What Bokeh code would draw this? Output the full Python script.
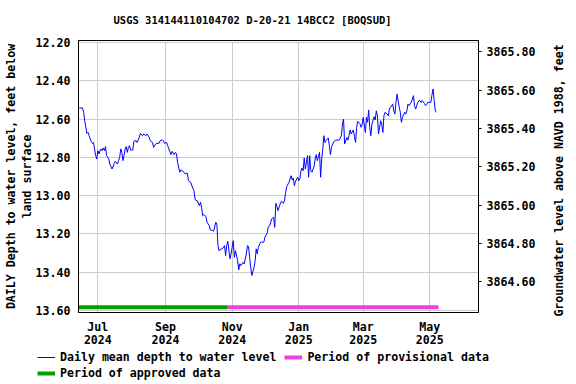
import math
import pandas as pd
from bokeh.plotting import figure
from bokeh.layouts import column, row
from bokeh.models import (Range1d, LinearAxis, FixedTicker, Legend, LegendItem,
                          NumeralTickFormatter, Label)
from bokeh.embed import file_html
from bokeh.resources import INLINE

# ---------------- data ----------------
dates = [
    "2024-06-14", "2024-06-17", "2024-06-18", "2024-06-19", "2024-06-20", "2024-06-21", "2024-06-22",
    "2024-06-23", "2024-06-24", "2024-06-25", "2024-06-26", "2024-06-27", "2024-06-28", "2024-06-29",
    "2024-06-30", "2024-07-01", "2024-07-02", "2024-07-03", "2024-07-04", "2024-07-05", "2024-07-06",
    "2024-07-07", "2024-07-08", "2024-07-09", "2024-07-11", "2024-07-12", "2024-07-14", "2024-07-16",
    "2024-07-17", "2024-07-19", "2024-07-20", "2024-07-21", "2024-07-22", "2024-07-23", "2024-07-24",
    "2024-07-25", "2024-07-26", "2024-07-27", "2024-07-28", "2024-07-29", "2024-07-30", "2024-07-31",
    "2024-08-02", "2024-08-03", "2024-08-05", "2024-08-06", "2024-08-08", "2024-08-09", "2024-08-11",
    "2024-08-12", "2024-08-14", "2024-08-15", "2024-08-17", "2024-08-18", "2024-08-20", "2024-08-21",
    "2024-08-23", "2024-08-24", "2024-08-26", "2024-08-27", "2024-08-29", "2024-08-30", "2024-08-31",
    "2024-09-02", "2024-09-03", "2024-09-04", "2024-09-06", "2024-09-07", "2024-09-09", "2024-09-10",
    "2024-09-11", "2024-09-12", "2024-09-14", "2024-09-15", "2024-09-16", "2024-09-18", "2024-09-19",
    "2024-09-21", "2024-09-22", "2024-09-24", "2024-09-25", "2024-09-27", "2024-09-28", "2024-09-29",
    "2024-09-30", "2024-10-02", "2024-10-03", "2024-10-04", "2024-10-05", "2024-10-06", "2024-10-08",
    "2024-10-09", "2024-10-11", "2024-10-12", "2024-10-14", "2024-10-15", "2024-10-17", "2024-10-18",
    "2024-10-19", "2024-10-20", "2024-10-22", "2024-10-23", "2024-10-25", "2024-10-26", "2024-10-27",
    "2024-10-28", "2024-10-30", "2024-10-31", "2024-11-01", "2024-11-02", "2024-11-03", "2024-11-04",
    "2024-11-06", "2024-11-07", "2024-11-08", "2024-11-09", "2024-11-11", "2024-11-12", "2024-11-14",
    "2024-11-15", "2024-11-16", "2024-11-17", "2024-11-18", "2024-11-19", "2024-11-21", "2024-11-22",
    "2024-11-23", "2024-11-24", "2024-11-25", "2024-11-27", "2024-11-28", "2024-11-30", "2024-12-01",
    "2024-12-03", "2024-12-04", "2024-12-06", "2024-12-07", "2024-12-09", "2024-12-10", "2024-12-11",
    "2024-12-12", "2024-12-13", "2024-12-15", "2024-12-16", "2024-12-18", "2024-12-19", "2024-12-20",
    "2024-12-21", "2024-12-23", "2024-12-24", "2024-12-25", "2024-12-26", "2024-12-27", "2024-12-28",
    "2024-12-29", "2024-12-31", "2025-01-01", "2025-01-02", "2025-01-03", "2025-01-04", "2025-01-05",
    "2025-01-06", "2025-01-07", "2025-01-09", "2025-01-10", "2025-01-11", "2025-01-12", "2025-01-13",
    "2025-01-15", "2025-01-16", "2025-01-17", "2025-01-18", "2025-01-20", "2025-01-21", "2025-01-22",
    "2025-01-23", "2025-01-24", "2025-01-25", "2025-01-26", "2025-01-28", "2025-01-29", "2025-01-30",
    "2025-01-31", "2025-02-01", "2025-02-03", "2025-02-04", "2025-02-06", "2025-02-07", "2025-02-09",
    "2025-02-10", "2025-02-11", "2025-02-12", "2025-02-14", "2025-02-15", "2025-02-16", "2025-02-17",
    "2025-02-18", "2025-02-20", "2025-02-21", "2025-02-22", "2025-02-23", "2025-02-24", "2025-02-26",
    "2025-02-27", "2025-02-28", "2025-03-01", "2025-03-03", "2025-03-04", "2025-03-05", "2025-03-06",
    "2025-03-07", "2025-03-08", "2025-03-09", "2025-03-11", "2025-03-12", "2025-03-13", "2025-03-14",
    "2025-03-15", "2025-03-17", "2025-03-18", "2025-03-19", "2025-03-20", "2025-03-21", "2025-03-23",
    "2025-03-24", "2025-03-25", "2025-03-26", "2025-03-28", "2025-03-29", "2025-03-30", "2025-03-31",
    "2025-04-01", "2025-04-03", "2025-04-04", "2025-04-05", "2025-04-06", "2025-04-08", "2025-04-09",
    "2025-04-10", "2025-04-11", "2025-04-12", "2025-04-14", "2025-04-15", "2025-04-16", "2025-04-17",
    "2025-04-18", "2025-04-20", "2025-04-21", "2025-04-22", "2025-04-23", "2025-04-24", "2025-04-26",
    "2025-04-27", "2025-04-28", "2025-04-29", "2025-05-01", "2025-05-02", "2025-05-03", "2025-05-04",
    "2025-05-05", "2025-05-06", "2025-05-07",
]
depth = [
    12.542, 12.542, 12.565, 12.609, 12.643, 12.675, 12.669,
    12.687, 12.704, 12.718, 12.727, 12.722, 12.756, 12.791,
    12.809, 12.765, 12.782, 12.765, 12.756, 12.765, 12.751,
    12.765, 12.744, 12.791, 12.809, 12.835, 12.861, 12.831,
    12.821, 12.835, 12.817, 12.800, 12.756, 12.774, 12.817,
    12.791, 12.756, 12.744, 12.774, 12.748, 12.739, 12.762,
    12.762, 12.716, 12.713, 12.722, 12.695, 12.675, 12.687,
    12.678, 12.687, 12.678, 12.695, 12.713, 12.722, 12.748,
    12.730, 12.727, 12.727, 12.713, 12.709, 12.713, 12.727,
    12.722, 12.739, 12.756, 12.786, 12.769, 12.786, 12.774,
    12.782, 12.826, 12.878, 12.866, 12.869, 12.878, 12.887,
    12.883, 12.922, 12.930, 12.948, 12.974, 13.017, 13.026,
    13.026, 13.052, 13.035, 13.061, 13.104, 13.099, 13.109,
    13.139, 13.156, 13.179, 13.182, 13.186, 13.139, 13.148,
    13.261, 13.287, 13.278, 13.278, 13.261, 13.313, 13.261,
    13.238, 13.330, 13.304, 13.269, 13.235, 13.322, 13.287,
    13.339, 13.388, 13.356, 13.365, 13.348, 13.356, 13.304,
    13.261, 13.266, 13.322, 13.374, 13.417, 13.374, 13.342,
    13.278, 13.304, 13.269, 13.243, 13.243, 13.243, 13.217,
    13.196, 13.165, 13.148, 13.122, 13.113, 13.165, 13.040,
    13.057, 13.078, 13.043, 13.030, 13.040, 13.023, 12.983,
    12.953, 12.930, 12.913, 12.896, 12.918, 12.908, 12.948,
    12.925, 12.904, 12.922, 12.913, 12.870, 12.856, 12.870,
    12.803, 12.861, 12.791, 12.904, 12.791, 12.870, 12.878,
    12.849, 12.809, 12.786, 12.817, 12.774, 12.904, 12.809,
    12.757, 12.687, 12.722, 12.713, 12.699, 12.739, 12.786,
    12.748, 12.730, 12.713, 12.710, 12.710, 12.710, 12.687,
    12.626, 12.600, 12.730, 12.696, 12.710, 12.687, 12.657,
    12.678, 12.657, 12.692, 12.722, 12.643, 12.612, 12.623,
    12.643, 12.630, 12.591, 12.670, 12.591, 12.617, 12.553,
    12.643, 12.687, 12.626, 12.588, 12.605, 12.557, 12.583,
    12.678, 12.609, 12.626, 12.670, 12.583, 12.565, 12.574,
    12.583, 12.548, 12.539, 12.522, 12.557, 12.574, 12.513,
    12.470, 12.539, 12.565, 12.617, 12.591, 12.565, 12.574,
    12.557, 12.522, 12.530, 12.513, 12.496, 12.478, 12.530,
    12.548, 12.513, 12.504, 12.504, 12.513, 12.504, 12.518,
    12.530, 12.525, 12.513, 12.513, 12.513, 12.473, 12.443,
    12.504, 12.557, 12.565,
]

approved_period = ["2024-06-13", "2024-10-28"]
provisional_period = ["2024-10-28", "2025-05-09"]
period_bar_depth = 13.583

land_surface_elevation = 3878.05  # ft above NAVD 1988

x_tick_dates = ["2024-07-01", "2024-09-01", "2024-11-01", "2025-01-01", "2025-03-01", "2025-05-01"]
x_tick_labels = ["Jul\n2024", "Sep\n2024", "Nov\n2024", "Jan\n2025", "Mar\n2025", "May\n2025"]
depth_ticks = [12.2, 12.4, 12.6, 12.8, 13.0, 13.2, 13.4, 13.6]
elev_ticks = [3864.6, 3864.8, 3865.0, 3865.2, 3865.4, 3865.6, 3865.8]

x_start, x_end = "2024-06-13 07:00", "2025-06-14 14:00"
depth_top, depth_bottom = 12.19, 13.61

# ---------------- styling ----------------
FONT = "DejaVu Sans Mono"
FS = "11.6px"
BLUE, GREEN, PINK = "#0000ff", "#00a000", "#f040e0"

def no_align(fig):
    try:
        fig.frame_align = False
    except Exception:
        pass

p = figure(frame_width=400, frame_height=272, x_axis_type="datetime",
           x_range=(pd.Timestamp(x_start), pd.Timestamp(x_end)),
           y_range=Range1d(start=depth_bottom, end=depth_top),
           output_backend="svg", toolbar_location=None,
           min_border_left=78, min_border_right=65, min_border_top=40, min_border_bottom=36)
no_align(p)

p.background_fill_color = "white"
p.border_fill_color = "white"
p.outline_line_color = "black"
p.outline_line_width = 1

p.title.text = "USGS 314144110104702 D-20-21 14BCC2 [BOQSUD]"
p.title.text_font = FONT
p.title.text_font_size = "10.5px"
p.title.text_font_style = "bold"
p.title.text_color = "black"
p.title.align = "left"
p.title.offset = 35
p.title.vertical_align = "top"
p.title.standoff = 25

# x axis
tick_ms = [pd.Timestamp(d).value // 10**6 for d in x_tick_dates]
xax = p.xaxis[0]
xax.ticker = FixedTicker(ticks=tick_ms)
xax.major_label_overrides = {float(t): lab for t, lab in zip(tick_ms, x_tick_labels)}
xax.major_tick_out = 0
xax.major_tick_in = 0
xax.minor_tick_out = 0
xax.minor_tick_in = 0
xax.major_label_standoff = 7
xax.major_label_text_line_height = 0.95

# left axis
yax = p.yaxis[0]
yax.ticker = FixedTicker(ticks=depth_ticks)
yax.formatter = NumeralTickFormatter(format="0.00")
yax.major_tick_out = 0
yax.major_tick_in = 0
yax.minor_tick_out = 0
yax.minor_tick_in = 0
yax.major_label_standoff = 8
yax.axis_label = "DAILY Depth to water level, feet below\nland surface"
yax.axis_label_standoff = -1
yax.axis_label_text_line_height = 1.08

# right axis (elevation)
p.extra_y_ranges = {"elev": Range1d(start=land_surface_elevation - depth_bottom,
                                    end=land_surface_elevation - depth_top)}
rax = LinearAxis(y_range_name="elev",
                 ticker=FixedTicker(ticks=elev_ticks),
                 formatter=NumeralTickFormatter(format="0.00"))
rax.major_tick_out = 3
rax.major_tick_in = 0
rax.minor_tick_out = 0
rax.minor_tick_in = 0
rax.major_label_standoff = 5
p.add_layout(rax, "right")

for ax in [xax, yax, rax]:
    ax.major_label_text_font = FONT
    ax.major_label_text_font_size = FS
    ax.major_label_text_font_style = "bold"
    ax.major_label_text_color = "black"
    ax.axis_label_text_font = FONT
    ax.axis_label_text_font_size = FS
    ax.axis_label_text_font_style = "bold"
    ax.axis_label_text_color = "black"
    ax.axis_line_color = "black"
    ax.major_tick_line_color = "black"

p.xgrid.ticker = FixedTicker(ticks=tick_ms)
p.ygrid.ticker = FixedTicker(ticks=depth_ticks)
p.xgrid.grid_line_color = "#cccccc"
p.ygrid.grid_line_color = "#cccccc"

# ---------------- glyphs ----------------
p.line(x=pd.to_datetime(approved_period), y=[period_bar_depth] * 2,
       line_color=GREEN, line_width=4)
p.line(x=pd.to_datetime(provisional_period), y=[period_bar_depth] * 2,
       line_color=PINK, line_width=4)
p.line(x=pd.to_datetime(dates), y=depth, line_color=BLUE, line_width=1)

# ---------------- right-hand axis title (reads bottom to top) ----------------
rf = figure(width=33, height=348, min_border=0, toolbar_location=None,
            x_axis_location=None, y_axis_location=None, output_backend="svg",
            x_range=(0, 1), y_range=(0, 1))
no_align(rf)
rf.outline_line_color = None
rf.grid.visible = False
rf.add_layout(Label(x=15, y=168, x_units="screen", y_units="screen",
                    text="Groundwater level above NAVD 1988, feet",
                    angle=math.pi / 2, text_align="center", text_baseline="middle",
                    text_font=FONT, text_font_size=FS, text_font_style="bold",
                    text_color="black"))

# ---------------- legend strip ----------------
lf = figure(width=576, height=36, min_border=0, toolbar_location=None,
            x_axis_location=None, y_axis_location=None, output_backend="svg",
            x_range=(0, 1), y_range=(0, 1))
no_align(lf)
lf.outline_line_color = None
lf.grid.visible = False
# legend keys: the same series, drawn outside this strip's (empty) view
k_wl = lf.line(x=pd.to_datetime(dates), y=depth, line_color=BLUE, line_width=1)
k_app = lf.line(x=pd.to_datetime(approved_period), y=[period_bar_depth] * 2,
                line_color=GREEN, line_width=4)
k_prov = lf.line(x=pd.to_datetime(provisional_period), y=[period_bar_depth] * 2,
                 line_color=PINK, line_width=4)

def make_legend(items, loc):
    return Legend(items=items, location=loc, orientation="horizontal",
                  border_line_color=None, background_fill_alpha=0,
                  padding=0, margin=0, spacing=8,
                  glyph_width=18, glyph_height=14, label_height=14,
                  label_standoff=5, label_text_font=FONT, label_text_font_size=FS,
                  label_text_font_style="bold", label_text_color="black")

lf.add_layout(make_legend([LegendItem(label="Daily mean depth to water level", renderers=[k_wl]),
                           LegendItem(label="Period of provisional data", renderers=[k_prov])],
                          (37, 21)))
lf.add_layout(make_legend([LegendItem(label="Period of approved data", renderers=[k_app])],
                          (37, 5)))

layout = column(row(p, rf, spacing=0), lf, spacing=0)
open("out.html", "w").write(file_html(layout, INLINE))
